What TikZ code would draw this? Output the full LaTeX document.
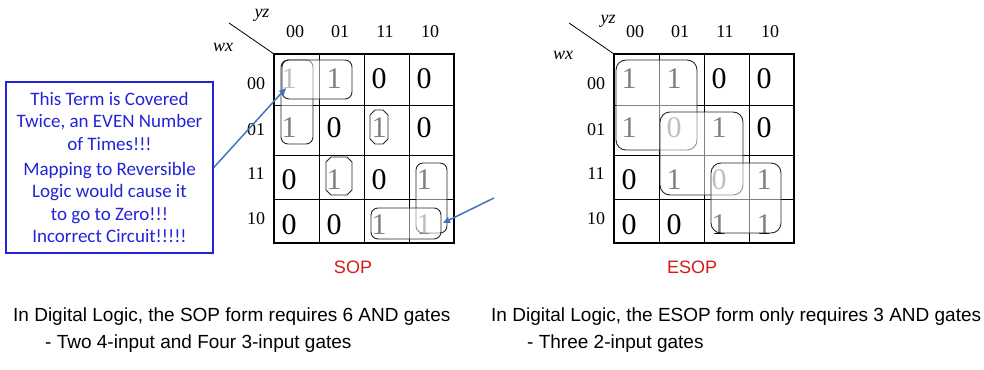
\documentclass[tikz,border=0pt]{standalone}
\usepackage{fontspec}
\setmainfont{Liberation Serif}
\setsansfont{Liberation Sans}
\newfontfamily\calloutfont{Carlito}
\usetikzlibrary{arrows.meta}
\definecolor{callblue}{RGB}{35,35,215}
\definecolor{linkblue}{RGB}{68,114,196}
\definecolor{mapred}{RGB}{215,25,25}
\tikzset{
  >={Triangle[length=7pt,width=6pt]},
  bit/.style={font=\fontsize{30}{30}\selectfont,inner sep=0pt},
  idx/.style={font=\fontsize{18}{18}\selectfont,inner sep=0pt},
  var/.style={font=\fontsize{18}{18}\selectfont\itshape,inner sep=0pt},
  group/.style={draw=black!85,fill=white,fill opacity=0.5,rounded corners=#1,line width=0.9pt},
  group/.default=7pt,
  % octagonal loop round a single cell, half width / half height
  pics/octagon/.style args={#1/#2}{code={
    \draw[group=0pt] (-#1,-#2+5) -- (-#1,#2-5) -- (-#1+5,#2) -- (#1-5,#2)
      -- (#1,#2-5) -- (#1,-#2+5) -- (#1-5,-#2) -- (-#1+5,-#2) -- cycle;
  }},
  note/.style={draw=callblue,line width=1.6pt,text=callblue,align=center,
    font=\calloutfont\fontsize{19}{22.5}\selectfont,minimum width=207pt,minimum height=171pt},
  pointer/.style={->,draw=linkblue,line width=1.5pt},
  maplabel/.style={text=mapred,font=\sffamily\fontsize{18}{18}\selectfont},
  remark/.style={anchor=base west,inner sep=0pt,font=\sffamily\fontsize{19}{19}\selectfont},
}

\begin{document}
\begin{tikzpicture}[x=1pt,y=-1pt]
  \useasboundingbox (0,0) rectangle (984,369);
  % the two maps: grid, headings and variable names
  \foreach \ox/\m in {274/s,614/e}{
    \foreach \x in {1,2,3} \draw[line width=0.8pt] (\ox+45*\x,54) -- (\ox+45*\x,243);
    \foreach \y in {105,155,199} \draw[line width=0.8pt] (\ox,\y) -- (\ox+180,\y);
    \draw[line width=2pt] (\ox,54) rectangle (\ox+180,243);
    \draw[line width=0.8pt] (\ox-45,23) -- (\ox,54);
    \foreach \t [count=\i from 0] in {00,01,11,10}
      \node[idx] (\m c\t) at (\ox+21+45*\i,32) {\t};
    \foreach \t/\y in {00/84,01/130,11/174,10/219}
      \node[idx] (\m r\t) at (\ox-18,\y) {\t};
    % cell values
    \foreach \y/\row [count=\r from 0] in {79/{1,1,0,0},128/{1,0,1,0},180/{0,1,0,1},225/{0,0,1,1}}
      \foreach \v [count=\c from 0] in \row
        \node[bit] (\m\r\c) at (\ox+15+45*\c,\y) {\v};
  }
  \node[var] (syz) at (262,15) {yz};
  \node[var] (swx) at (223,47) {wx};
  \node[var] (eyz) at (608,21) {yz};
  \node[var] (ewx) at (563,55) {wx};
  % SOP groups
  \draw[group] (281,60) rectangle (313,144);
  \draw[group] (282,60) rectangle (352,99);
  \draw[group] (416,163) rectangle (447,233);
  \draw[group] (371,208) rectangle (441,239);
  \pic (o1) at (379,127) {octagon=9/17};
  \pic (o2) at (339,176) {octagon=13/19};
  % ESOP groups
  \draw[group=10pt] (616,60) rectangle (697,150);
  \draw[group=10pt] (660,112) rectangle (743,195);
  \draw[group=10pt] (711,163) rectangle (781,233);
  % callout
  \node[note] (note) at (109.5,167.5) {This Term is Covered\\Twice, an EVEN Number\\of Times!!!\\[2.5pt]Mapping to Reversible\\Logic would cause it\\to go to Zero!!!\\Incorrect Circuit!!!!!};
  \coordinate (tipA) at (286,88);
  \coordinate (tailB) at (494,198);
  \coordinate (tipB) at (443,223);
  \draw[pointer] (note.east) -- (tipA);
  \draw[pointer] (tailB) -- (tipB);
  \node[maplabel] (soplab) at (353,267) {SOP};
  \node[maplabel] (esoplab) at (692,267) {ESOP};
  \node[remark] (sopcost) at (13,321) {In Digital Logic, the SOP form requires 6 AND gates};
  \node[remark] (sopgates) at (45,348) {- Two 4-input and Four 3-input gates};
  \node[remark] (esopcost) at (491,321) {In Digital Logic, the ESOP form only requires 3 AND gates};
  \node[remark] (esopgates) at (527,348) {- Three 2-input gates};
\end{tikzpicture}
\end{document}
